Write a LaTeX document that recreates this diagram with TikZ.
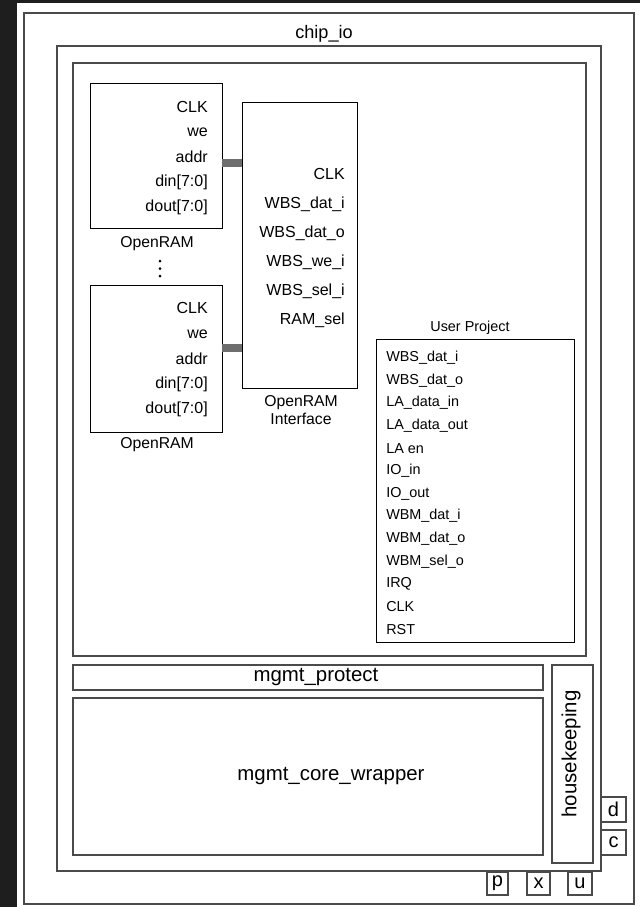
\documentclass[tikz,border=0pt]{standalone}
\usepackage{fontspec}
\setmainfont{Liberation Sans}
\usetikzlibrary{fit}
\definecolor{bgdark}{HTML}{1E1E1E}
\definecolor{edgegray}{HTML}{4A4A4A}
\definecolor{busgray}{HTML}{6E6E6E}
\tikzset{
  outerbox/.style={draw=edgegray, line width=1.4pt, inner sep=0pt},
  innerbox/.style={draw=black, line width=0.7pt, inner sep=0pt},
  pinlbl/.style={anchor=east, inner sep=0pt, font=\fontsize{12pt}{14pt}\selectfont},
  uplbl/.style={anchor=west, inner sep=0pt, font=\fontsize{10.8pt}{13pt}\selectfont},
  caplbl/.style={inner sep=0pt, align=center, font=\fontsize{11.8pt}{13.5pt}\selectfont},
  biglbl/.style={inner sep=0pt, font=\fontsize{15.3pt}{18pt}\selectfont},
  padlbl/.style={inner sep=0pt, font=\fontsize{15pt}{17pt}\selectfont},
  bus/.style={draw=busgray, line width=5.6pt},
  dotmark/.style={fill=black, draw=none}
}
\begin{document}
\begin{tikzpicture}[x=0.75pt, y=-0.75pt]
\useasboundingbox (0,0) rectangle (640,907);
\fill[bgdark] (0,0) rectangle (640,907);
\fill[white] (17,3) rectangle (640,907);

% outer hierarchy
\node[outerbox, fit={(24,13) (634,904)}] (chipio) {};
\node[inner sep=0pt, font=\fontsize{13.6pt}{16pt}\selectfont] (chipiolbl) at (324,34) {chip\_io};
\node[outerbox, fit={(57,46) (601,871)}] (core) {};
\node[outerbox, fit={(73,63) (586,656)}] (userarea) {};

% OpenRAM blocks
\node[innerbox, fit={(90,83) (222,228)}] (ram1) {};
\node[pinlbl] at (208,107) {CLK};
\node[pinlbl] at (208,132) {we};
\node[pinlbl] at (208,157) {addr};
\node[pinlbl] at (208,182) {din[7:0]};
\node[pinlbl] at (208,207) {dout[7:0]};
\node[caplbl] (ram1lbl) at (157,244) {OpenRAM};

\fill[dotmark] (160,261) circle (1.5);
\fill[dotmark] (160,268.5) circle (1.5);
\fill[dotmark] (160,276) circle (1.5);

\node[innerbox, fit={(90,285) (222,432)}] (ram2) {};
\node[pinlbl] at (208,308) {CLK};
\node[pinlbl] at (208,334) {we};
\node[pinlbl] at (208,359) {addr};
\node[pinlbl] at (208,384) {din[7:0]};
\node[pinlbl] at (208,409) {dout[7:0]};
\node[caplbl] (ram2lbl) at (157,445) {OpenRAM};

% interface
\node[innerbox, fit={(242,102) (357,388)}] (iface) {};
\node[pinlbl] at (345,174) {CLK};
\node[pinlbl] at (345,204) {WBS\_dat\_i};
\node[pinlbl] at (345,233) {WBS\_dat\_o};
\node[pinlbl] at (345,262) {WBS\_we\_i};
\node[pinlbl] at (345,291) {WBS\_sel\_i};
\node[pinlbl] at (345,320) {RAM\_sel};
\node[caplbl] (ifacelbl) at (301,410) {OpenRAM\\Interface};

% buses
\coordinate (bus1) at (0,163);
\coordinate (bus2) at (0,348);
\draw[bus] (ram1.east |- bus1) -- (iface.west |- bus1);
\draw[bus] (ram2.east |- bus2) -- (iface.west |- bus2);

% user project
\node[innerbox, fit={(376,339) (574,642)}] (uproj) {};
\node[inner sep=0pt, font=\fontsize{10.8pt}{13pt}\selectfont] (uprojlbl) at (470,328) {User Project};
\foreach \t [count=\i from 0] in {WBS\_dat\_i, WBS\_dat\_o, LA\_data\_in, LA\_data\_out, LA en, IO\_in, IO\_out, WBM\_dat\_i, WBM\_dat\_o, WBM\_sel\_o, IRQ, CLK, RST}
  \node[uplbl] at (386,358+22.6*\i) {\t};

% management
\node[outerbox, fit={(73,665) (543,690)}] (mprot) {};
\node[biglbl] at (316,677) {mgmt\_protect};
\node[outerbox, fit={(73,698) (543,855)}] (mcore) {};
\node[biglbl] at (331,776) {mgmt\_core\_wrapper};
\node[outerbox, fit={(552,665) (593,863)}] (hk) {};
\node[biglbl, rotate=90] at (571,754) {housekeeping};

% pads
\node[outerbox, fit={(601,797) (626,822)}] (padd) {};
\node[padlbl] at (padd.center) {d};
\node[outerbox, fit={(601,830) (626,855)}] (padc) {};
\node[padlbl] at (padc.center) {c};
\node[outerbox, fit={(487,872) (508,895)}] (padp) {};
\node[padlbl] at (padp.center) {p};
\node[outerbox, fit={(527,872) (550,895)}] (padx) {};
\node[padlbl] at (padx.center) {x};
\node[outerbox, fit={(568,872) (592,895)}] (padu) {};
\node[padlbl] at (padu.center) {u};
\end{tikzpicture}
\end{document}
